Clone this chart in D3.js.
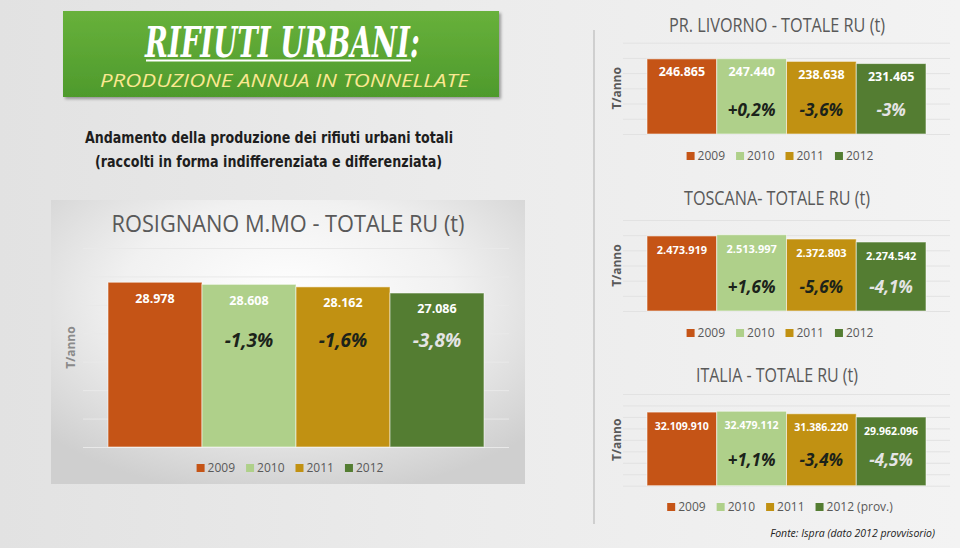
<!DOCTYPE html>
<html>
<head>
<meta charset="utf-8">
<script src="https://cdn.jsdelivr.net/npm/d3@7"></script>
<style>
  body { margin: 0; background: #ececec; }
  svg { display: block; }
</style>
</head>
<body>
<svg id="chart" width="960" height="548"></svg>
<script>
// anni e colori delle serie
const years = ["2009", "2010", "2011", "2012"];
const yearsProv = ["2009", "2010", "2011", "2012 (prov.)"];
const yearColors = ["#c55416", "#afd08a", "#c19112", "#547d32"];

// totale RU in tonnellate
const rosignanoRU = [28978, 28608, 28162, 27086];
const livornoRU = [246865, 247440, 238638, 231465];
const toscanaRU = [2473919, 2513997, 2372803, 2274542];
const italiaRU = [32109910, 32479112, 31386220, 29962096];

// variazioni sull'anno precedente (come scritte nel grafico)
const rosignanoVar = ["", "-1,3%", "-1,6%", "-3,8%"];
const livornoVar = ["", "+0,2%", "-3,6%", "-3%"];
const toscanaVar = ["", "+1,6%", "-5,6%", "-4,1%"];
const italiaVar = ["", "+1,1%", "-3,4%", "-4,5%"];

// massimo asse e passo griglia
const rosignanoAxis = [35000, 5000];
const livornoAxis = [300000, 50000];
const toscanaAxis = [3000000, 500000];
const italiaAxis = [40000000, 5000000];

const itLocale = d3.formatLocale({ decimal: ",", thousands: ".", grouping: [3], currency: ["€", ""] });
const fmt = itLocale.format(",d");

const svg = d3.select("#chart");
const defs = svg.append("defs");

const bgGrad = defs.append("linearGradient").attr("id", "bg").attr("x1", 0).attr("x2", 1).attr("y1", 0).attr("y2", 0);
bgGrad.append("stop").attr("offset", "0%").attr("stop-color", "#e2e2e2");
bgGrad.append("stop").attr("offset", "45%").attr("stop-color", "#ebebeb");
bgGrad.append("stop").attr("offset", "100%").attr("stop-color", "#f3f3f3");

const bannerGrad = defs.append("linearGradient").attr("id", "banner").attr("x1", 0).attr("x2", 0).attr("y1", 0).attr("y2", 1);
bannerGrad.append("stop").attr("offset", "0%").attr("stop-color", "#68b13b");
bannerGrad.append("stop").attr("offset", "100%").attr("stop-color", "#4e9a2c");

const panelGrad = defs.append("radialGradient").attr("id", "panel").attr("cx", "50%").attr("cy", "35%").attr("r", "70%");
panelGrad.append("stop").attr("offset", "0%").attr("stop-color", "#ffffff");
panelGrad.append("stop").attr("offset", "50%").attr("stop-color", "#f1f1f1");
panelGrad.append("stop").attr("offset", "100%").attr("stop-color", "#cfcfcf");

const shadow = defs.append("filter").attr("id", "shadow").attr("x", "-5%").attr("y", "-10%").attr("width", "115%").attr("height", "130%");
shadow.append("feDropShadow").attr("dx", 2).attr("dy", 2).attr("stdDeviation", 1.8).attr("flood-opacity", 0.35);

svg.append("rect").attr("width", 960).attr("height", 548).attr("fill", "url(#bg)");

// banner titolo
svg.append("rect")
  .attr("x", 63).attr("y", 11).attr("width", 436).attr("height", 86)
  .attr("fill", "url(#banner)").attr("filter", "url(#shadow)");

svg.append("text")
  .attr("x", 145).attr("y", 56.5)
  .attr("textLength", 275).attr("lengthAdjust", "spacingAndGlyphs")
  .style("font-family", "'DejaVu Serif Condensed', 'DejaVu Serif', serif")
  .style("font-weight", "bold").style("font-style", "italic")
  .style("font-size", "43px").attr("fill", "#ffffff")
  .text("RIFIUTI URBANI:");

svg.append("line")
  .attr("x1", 146).attr("x2", 411).attr("y1", 60.5).attr("y2", 60.5)
  .attr("stroke", "#ffffff").attr("stroke-width", 2.2);

svg.append("text")
  .attr("x", 100).attr("y", 87)
  .attr("textLength", 369).attr("lengthAdjust", "spacingAndGlyphs")
  .style("font-family", "'Open Sans', sans-serif")
  .style("font-style", "italic").style("font-size", "19px")
  .attr("fill", "#fbe891")
  .text("PRODUZIONE ANNUA IN TONNELLATE");

const subLines = [
  ["Andamento della produzione dei rifiuti urbani totali", 85, 143, 368],
  ["(raccolti in forma indifferenziata e differenziata)", 95, 167, 347]
];
svg.selectAll(".sub").data(subLines).enter().append("text")
  .attr("class", "sub")
  .attr("x", d => d[1]).attr("y", d => d[2])
  .attr("textLength", d => d[3]).attr("lengthAdjust", "spacingAndGlyphs")
  .style("font-family", "'DejaVu Sans Condensed', 'DejaVu Sans', sans-serif")
  .style("font-weight", "bold").style("font-size", "16px")
  .attr("fill", "#1e1e1e")
  .text(d => d[0]);

// pannello Rosignano
svg.append("rect")
  .attr("x", 51).attr("y", 200).attr("width", 474).attr("height", 284)
  .attr("fill", "url(#panel)");

// linea separatrice a destra
svg.append("line")
  .attr("x1", 594).attr("x2", 594).attr("y1", 30).attr("y2", 524)
  .attr("stroke", "#c4c4c4").attr("stroke-width", 1.5);

function drawChart(cfg) {
  const g = svg.append("g");

  const y = d3.scaleLinear().domain([0, cfg.axis[0]]).range([cfg.bottom, cfg.top]);
  const x = d3.scaleBand().domain(years).range(cfg.bars).padding(0);

  // griglia
  const grid = g.append("g")
    .attr("transform", `translate(${cfg.gridX[0]},0)`)
    .call(d3.axisLeft(y)
      .tickValues(d3.range(0, cfg.axis[0] + 1, cfg.axis[1]))
      .tickSize(-(cfg.gridX[1] - cfg.gridX[0]))
      .tickFormat(""));
  grid.select(".domain").remove();
  grid.selectAll(".tick line").attr("stroke", cfg.gridColor).attr("stroke-width", 1);

  g.append("text")
    .attr("x", cfg.titleX).attr("y", cfg.titleY)
    .attr("text-anchor", "middle")
    .attr("textLength", cfg.titleLen).attr("lengthAdjust", "spacingAndGlyphs")
    .style("font-family", "'Open Sans', sans-serif")
    .style("font-size", cfg.titleSize + "px")
    .style("font-weight", 500)
    .attr("fill", "#595959")
    .text(cfg.title);

  g.append("text")
    .attr("transform", `translate(${cfg.axisLabelX},${(cfg.top + cfg.bottom) / 2}) rotate(-90)`)
    .attr("text-anchor", "middle").attr("dy", "0.35em")
    .style("font-family", "'Open Sans', sans-serif")
    .style("font-weight", "bold").style("font-size", "12px")
    .attr("fill", cfg.axisLabelColor)
    .text("T/anno");

  g.selectAll(".bar").data(cfg.values).enter().append("rect")
    .attr("x", (d, i) => x(years[i]))
    .attr("y", d => y(d))
    .attr("width", x.bandwidth())
    .attr("height", d => y(0) - y(d))
    .attr("fill", (d, i) => yearColors[i])
    .attr("stroke", "rgba(255,255,255,0.55)").attr("stroke-width", 1);

  g.selectAll(".val").data(cfg.values).enter().append("text")
    .attr("x", (d, i) => x(years[i]) + x.bandwidth() / 2)
    .attr("y", d => y(d) + cfg.valueDy)
    .attr("text-anchor", "middle").attr("dy", "0.35em")
    .style("font-family", "'Open Sans', sans-serif")
    .style("font-weight", "bold").style("font-size", cfg.valueSize + "px")
    .attr("fill", "#ffffff")
    .text(d => fmt(d));

  g.selectAll(".pct").data(cfg.pct).enter().append("text")
    .attr("x", (d, i) => x(years[i]) + x.bandwidth() / 2)
    .attr("y", cfg.bottom - cfg.pctUp)
    .attr("text-anchor", "middle").attr("dy", "0.35em")
    .style("font-family", "'Open Sans', sans-serif")
    .style("font-weight", "bold").style("font-style", "italic")
    .style("font-size", cfg.pctSize + "px")
    .attr("fill", (d, i) => i === 3 ? "#e4e4e4" : "#1b231a")
    .text(d => d);

  // legenda
  const leg = g.append("g");
  let cx = 0;
  cfg.legend.forEach((lab, i) => {
    leg.append("rect")
      .attr("x", cx).attr("y", -4).attr("width", 8).attr("height", 8)
      .attr("fill", yearColors[i]);
    const t = leg.append("text")
      .attr("x", cx + 11).attr("y", 0).attr("dy", "0.35em")
      .style("font-family", "'Open Sans', sans-serif")
      .style("font-size", "12px")
      .attr("fill", "#595959")
      .text(lab);
    cx += 11 + t.node().getComputedTextLength() + 11;
  });
  cx -= 11;
  leg.attr("transform", `translate(${cfg.legendX - cx / 2},${cfg.legendY})`);
}

drawChart({
  title: "ROSIGNANO M.MO - TOTALE RU (t)", values: rosignanoRU, pct: rosignanoVar, legend: years, axis: rosignanoAxis,
  top: 248, bottom: 447, bars: [108, 484], gridX: [83, 509], gridColor: "#e9e9e9",
  titleX: 288, titleY: 232, titleSize: 23, titleLen: 353,
  axisLabelX: 71, axisLabelColor: "#8a8a8a",
  valueDy: 16, valueSize: 12.5, pctUp: 107, pctSize: 19,
  legendX: 290, legendY: 468
});

drawChart({
  title: "PR. LIVORNO - TOTALE RU (t)", values: livornoRU, pct: livornoVar, legend: years, axis: livornoAxis,
  top: 42.7, bottom: 134, bars: [647, 926], gridX: [623, 950], gridColor: "#e2e2e2",
  titleX: 777, titleY: 32, titleSize: 20, titleLen: 216,
  axisLabelX: 617, axisLabelColor: "#595959",
  valueDy: 13, valueSize: 12.5, pctUp: 24, pctSize: 17,
  legendX: 780, legendY: 156
});

drawChart({
  title: "TOSCANA- TOTALE RU (t)", values: toscanaRU, pct: toscanaVar, legend: years, axis: toscanaAxis,
  top: 220, bottom: 311, bars: [647, 926], gridX: [623, 950], gridColor: "#e2e2e2",
  titleX: 777, titleY: 205, titleSize: 20, titleLen: 186,
  axisLabelX: 617, axisLabelColor: "#595959",
  valueDy: 14, valueSize: 11, pctUp: 24, pctSize: 17,
  legendX: 780, legendY: 333
});

drawChart({
  title: "ITALIA - TOTALE RU (t)", values: italiaRU, pct: italiaVar, legend: yearsProv, axis: italiaAxis,
  top: 394, bottom: 485.7, bars: [647, 926], gridX: [623, 950], gridColor: "#e2e2e2",
  titleX: 777, titleY: 382, titleSize: 20, titleLen: 162,
  axisLabelX: 617, axisLabelColor: "#595959",
  valueDy: 14, valueSize: 10.5, pctUp: 26, pctSize: 17,
  legendX: 780, legendY: 507
});

svg.append("text")
  .attr("x", 935).attr("y", 537)
  .attr("text-anchor", "end")
  .style("font-family", "'Open Sans', sans-serif")
  .style("font-style", "italic").style("font-size", "10.5px")
  .attr("fill", "#222222")
  .text("Fonte: Ispra (dato 2012 provvisorio)");
</script>
</body>
</html>
